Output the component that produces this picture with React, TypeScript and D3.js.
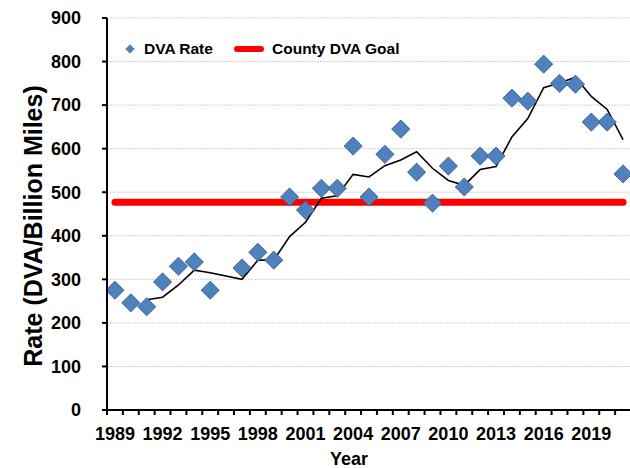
import { useMemo } from "react";
import * as d3 from "d3";

const WIDTH = 630;
const HEIGHT = 468;
const MARGIN = { top: 18, right: -1, bottom: 58, left: 107 };

const years = d3.range(1989, 2022).map(String);
const tickYears = ["1989", "1992", "1995", "1998", "2001", "2004", "2007", "2010", "2013", "2016", "2019"];
const yTicks = [0, 100, 200, 300, 400, 500, 600, 700, 800, 900];

// DVA rate per year (1996 has no value)
const dvaRate: (number | null)[] = [
  275, 246, 237, 294, 330, 340, 275, null, 326, 362, 344,
  489, 459, 509, 509, 606, 489, 587, 645, 546, 475, 560,
  512, 583, 583, 716, 709, 794, 750, 748, 661, 661, 542,
];

// 3-year moving average as drawn in the chart (starts 1991)
const movingAvg: (number | null)[] = [
  null, null, 253, 259, 287, 321, 315, null, 300, 344, 344,
  398, 431, 486, 492, 541, 535, 561, 574, 593, 555, 527,
  516, 552, 559, 627, 669, 740, 751, 764, 720, 690, 621,
];

const GOAL = 477;

const FONT = "'Liberation Sans', Arial, sans-serif";

export default function App() {
  const boundsWidth = WIDTH - MARGIN.left - MARGIN.right;
  const boundsHeight = HEIGHT - MARGIN.top - MARGIN.bottom;

  const xScale = useMemo(
    () => d3.scaleBand<string>().domain(years).range([0, boundsWidth]),
    [boundsWidth]
  );
  const yScale = useMemo(
    () => d3.scaleLinear().domain([0, 900]).range([boundsHeight, 0]),
    [boundsHeight]
  );

  const cx = (yr: string) => (xScale(yr) ?? 0) + xScale.bandwidth() / 2;

  // the trendline runs straight across the 1996 gap
  const trendPts = movingAvg
    .map((d, i) => (d === null ? null : ([cx(years[i]), yScale(d)] as [number, number])))
    .filter((p): p is [number, number] => p !== null);
  const trendLine = d3.line()(trendPts) ?? "";

  const bigDiamond = d3.symbol(d3.symbolSquare, 165)() ?? "";
  const smallDiamond = d3.symbol(d3.symbolSquare, 36)() ?? "";

  return (
    <svg
      width={WIDTH}
      height={HEIGHT}
      style={{ position: "absolute", left: 0, top: 0, background: "#fff" }}
    >
      <g transform={`translate(${MARGIN.left},${MARGIN.top})`}>
        {/* gridlines */}
        {yTicks.slice(1).map((t) => (
          <line
            key={t}
            x1={0}
            x2={boundsWidth}
            y1={yScale(t)}
            y2={yScale(t)}
            stroke="#cfcfcf"
            strokeWidth={1}
            strokeDasharray="2,1"
          />
        ))}

        {/* goal line */}
        <line
          x1={cx(years[0])}
          x2={cx(years[years.length - 1])}
          y1={yScale(GOAL)}
          y2={yScale(GOAL)}
          stroke="#ff0000"
          strokeWidth={7}
          strokeLinecap="round"
        />

        {/* trend */}
        <path d={trendLine} fill="none" stroke="#000" strokeWidth={1.6} />

        {/* points */}
        {dvaRate.map((v, i) =>
          v === null ? null : (
            <path
              key={i}
              d={bigDiamond}
              transform={`translate(${cx(years[i])},${yScale(v)}) rotate(45)`}
              fill="#4f81bd"
              stroke="#385d8a"
              strokeWidth={0.8}
            />
          )
        )}

        {/* y axis */}
        <line x1={0} x2={0} y1={0} y2={boundsHeight} stroke="#000" strokeWidth={2} />
        {yTicks.map((t) => (
          <g key={t} transform={`translate(0,${yScale(t)})`}>
            <line x1={-5} x2={0} stroke="#000" strokeWidth={2} />
            <text
              x={-26}
              dy="0.35em"
              textAnchor="end"
              fontFamily={FONT}
              fontWeight="bold"
              fontSize={18}
            >
              {t}
            </text>
          </g>
        ))}

        {/* x axis */}
        <line x1={-5} x2={boundsWidth} y1={boundsHeight} y2={boundsHeight} stroke="#000" strokeWidth={2} />
        {years.map((yr) => (
          <line
            key={yr}
            x1={xScale(yr) ?? 0}
            x2={xScale(yr) ?? 0}
            y1={boundsHeight}
            y2={boundsHeight + 5}
            stroke="#000"
            strokeWidth={2}
          />
        ))}
        {tickYears.map((yr) => (
          <text
            key={yr}
            x={cx(yr)}
            y={boundsHeight + 30}
            textAnchor="middle"
            fontFamily={FONT}
            fontWeight="bold"
            fontSize={18}
          >
            {yr}
          </text>
        ))}

        {/* legend */}
        <g transform="translate(23,31)">
          <path d={smallDiamond} transform="rotate(45)" fill="#4f81bd" stroke="#385d8a" strokeWidth={0.6} />
          <text x={14} dy="0.35em" fontFamily={FONT} fontWeight="bold" fontSize={15.5}>
            DVA Rate
          </text>
          <line x1={107} x2={131} stroke="#ff0000" strokeWidth={6} strokeLinecap="round" />
          <text x={142} dy="0.35em" fontFamily={FONT} fontWeight="bold" fontSize={15.5}>
            County DVA Goal
          </text>
        </g>
      </g>

      {/* axis titles */}
      <text
        x={349}
        y={465}
        textAnchor="middle"
        fontFamily={FONT}
        fontWeight="bold"
        fontSize={18}
      >
        Year
      </text>
      <text
        transform={`translate(42,${MARGIN.top + 208}) rotate(-90)`}
        textAnchor="middle"
        fontFamily={FONT}
        fontWeight="bold"
        fontSize={25}
      >
        Rate (DVA/Billion Miles)
      </text>
    </svg>
  );
}
